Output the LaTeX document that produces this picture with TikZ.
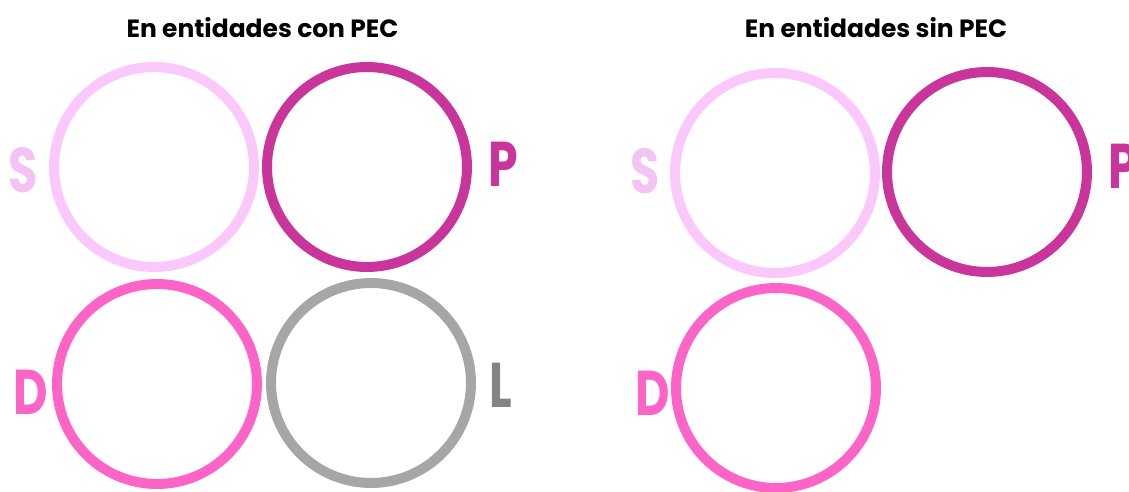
\documentclass[tikz,border=0pt]{standalone}
\usepackage{fontspec}
\setmainfont{Poppins}
\usepackage{tikz}
\definecolor{pecLight}{HTML}{FBC8FB}
\definecolor{pecLightText}{HTML}{F3C3F3}
\definecolor{pecDark}{HTML}{C9359B}
\definecolor{pecHot}{HTML}{FC64C8}
\definecolor{pecGrey}{HTML}{A6A6A6}
\definecolor{pecGreyText}{HTML}{848484}

\begin{document}
\begin{tikzpicture}[
  x=0.02cm, y=-0.02cm,
  ringStyle/.style={circle, draw=#1, line width=0.2cm, minimum size=4cm, inner sep=0pt},
  letterStyle/.style={text=#1, font=\bfseries\fontsize{36}{36}\selectfont, inner sep=0pt, xscale=0.75, transform shape},
  titleStyle/.style={font=\bfseries\fontsize{14.2}{16}\selectfont, anchor=base}]

\useasboundingbox (0, 0) rectangle (1129, 492);

% con PEC
\node [titleStyle] (titleCon) at (262.5, 38) {En entidades con PEC};
\node [ringStyle=pecLight] (conS) at (154, 167) {};
\node [ringStyle=pecDark] (conP) at (367, 167) {};
\node [ringStyle=pecHot] (conD) at (157, 384) {};
\node [ringStyle=pecGrey] (conL) at (371, 383) {};
\node [letterStyle=pecLightText] (conSl) at (23.5, 170.5) {S};
\node [letterStyle=pecDark] (conPl) at (503.5, 164.5) {P};
\node [letterStyle=pecHot] (conDl) at (30.5, 392.5) {D};
\node [letterStyle=pecGreyText] (conLl) at (501, 385.5) {L};

% sin PEC
\node [titleStyle] (titleSin) at (876, 38) {En entidades sin PEC};
\node [ringStyle=pecLight] (sinS) at (775, 173) {};
\node [ringStyle=pecDark] (sinP) at (987, 172) {};
\node [ringStyle=pecHot] (sinD) at (776, 388) {};
\node [letterStyle=pecLightText] (sinSl) at (645, 171.5) {S};
\node [letterStyle=pecDark] (sinPl) at (1123.5, 166.5) {P};
\node [letterStyle=pecHot] (sinDl) at (652.5, 393.5) {D};
\end{tikzpicture}
\end{document}
